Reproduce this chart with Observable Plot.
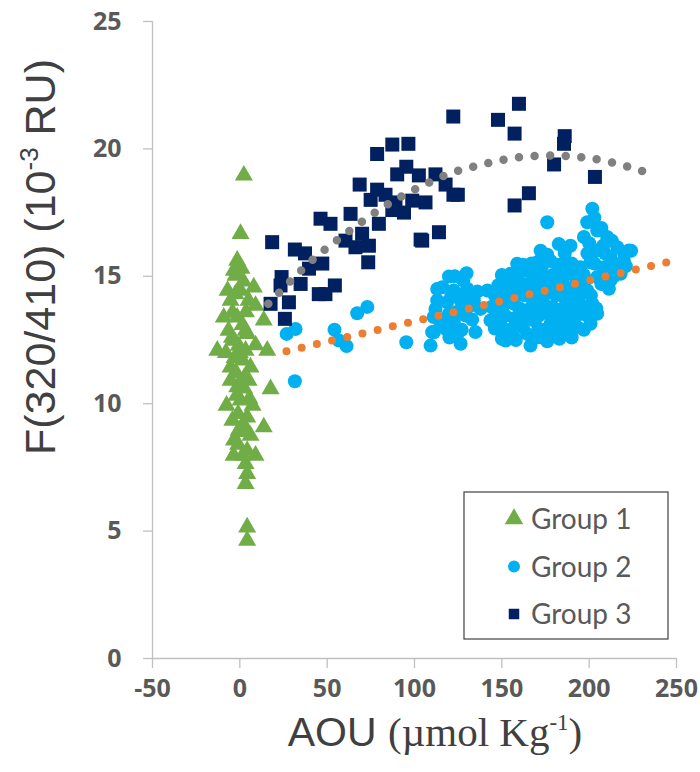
<!DOCTYPE html>
<html><head><meta charset="utf-8">
<script src="https://cdn.jsdelivr.net/npm/d3@7"></script>
<script src="https://cdn.jsdelivr.net/npm/@observablehq/plot@0.6"></script>
<style>
body{margin:0;background:#fff;}
#chart svg{display:block;}
</style></head><body><div id="chart"></div>
<script>
const xTicks = [-50, 0, 50, 100, 150, 200, 250];
const yTicks = [0, 5, 10, 15, 20, 25];
const seriesNames = ["Group 1", "Group 2", "Group 3"];

// Group 1 (green triangles)
const g1x = [2.3,0.4,-1.5,-3.4,-2.5,8,0.4,-5.3,13.7,-1.5,-9.2,-12.9,15.7,-3.4,4.2,-5.3,6.1,17.6,-1.5,-4.3,13.7,4.2,-3.4,4.2,9,3.3,4.2,3.3,4.2,4.2,-6.5,3.3,-0.7,1.6,-5.3,5,0.4,-7.6,7.3,-0.7,6.1,-3.6,1.6,-1.9,3.3,-4.2,9,5,-7,-2,2.5,-1,2,0,-2.5,3.5,1,-8,9,2.5,-3,1.5,5.5,-1,3,-4.5,2];
const g1y = [18.96,16.67,15.62,15.23,15.03,14.57,14.44,14.05,13.27,13.39,13.39,12.09,12.09,12.48,12.74,11.43,11.43,10.58,10.65,9.34,9.08,9.47,8.56,8.16,7.97,7.64,7.25,6.86,5.15,4.63,12.87,12.87,12.28,11.7,10.91,10.91,10.13,9.93,9.93,8.95,8.75,7.97,7.97,10.32,12.09,13.58,13.85,14.05,14.44,11.2,10.6,9.6,9.2,12.0,14.3,13.6,15.3,12.0,12.3,11.0,11.8,13.1,10.2,8.4,8.9,12.6,14.8];

// Group 2 (cyan circles)
const g2x = [73,67.2,26.8,31.9,54.2,56.7,61.1,31.5,95.3,109.2,111.1,
  129.8,119.7,127.9,115.9,122.5,130.2,113,118.7,126.4,134,137.8,112,119.7,129.2,114.9,122.5,110.1,124.5,134.9,126.4,117.8,
  113,121,128,116,124,131,111,127,120,133,123,136,
  176,182.6,172.2,189.3,158.8,164.5,155,177.9,185.5,195,149.3,147.4,148.3,153.1,152.1,156.9,164.5,172.2,179.8,185.5,193.2,200.8,204.6,201.8,198.9,160.7,166.4,174.1,181.7,189.3,156.9,164.5,174.1,181.7,189.3,195,160.7,168.3,177.9,185.5,193.2,170.3,141.8,143.5,168.3,177,185.5,160.7,176.2,193.8,152.1,198,149.3,166.4,
  150,158,170,176,183,190,146,155,162,171,175,181,188,197,146,152,157,165,171,180,187,192,199,144,151,160,167,172,179,185,192,198,204,146,153,158,163,170,174,181,188,195,201,148,156,164,170,177,185,192,196,150,159,168,179,183,189,197,162,167,173,182,190,176,186,
  201.8,198.9,204.6,197,210.3,216.1,222.7,204.6,212.2,219.8,200.8,208.4,216.1,204.6,212.2,211.3,218,
  203,207,200,208,213,203,214,220,207,209,199,214,221,224];
const g2y = [13.8,13.55,12.74,12.93,12.9,12.48,12.26,10.88,12.41,12.28,12.8,
  15.12,14.99,14.84,14.57,14.44,14.51,14.05,13.98,14.05,14.05,13.72,13.72,13.53,13.46,13.14,13.2,12.81,12.74,12.81,12.35,12.94,
  14.5,14.2,14.3,13.3,13.6,13.8,13.4,12.9,12.6,13.3,15.0,14.4,
  17.12,16.27,16.0,16.2,15.49,15.23,15.1,15.6,15.49,15.36,14.31,13.92,13.39,12.87,12.48,12.61,12.74,12.61,12.74,12.74,13.0,13.14,13.53,13.92,14.44,14.71,14.44,14.97,14.71,14.44,13.92,13.66,13.92,13.66,13.79,13.53,13.14,13.27,13.14,13.27,15.1,15.55,14.44,13.27,14.05,14.36,14.2,13.58,13.54,14.05,14.64,14.84,13.07,12.28,
  12.55,12.5,12.6,12.45,12.55,12.6,12.95,12.9,13.0,12.95,12.9,13.0,12.95,12.9,13.4,13.45,13.35,13.4,13.45,13.4,13.35,13.4,13.45,13.8,13.85,13.75,13.8,13.85,13.8,13.75,13.85,13.8,13.75,14.25,14.2,14.3,14.25,14.2,14.3,14.25,14.2,14.3,14.25,14.65,14.6,14.7,14.65,14.6,14.7,14.65,14.6,15.05,15.0,15.1,15.05,15.0,15.1,15.05,15.45,15.5,15.4,15.45,15.5,15.85,15.9,
  17.65,17.12,16.8,16.54,16.54,16.14,16.01,16.01,15.75,15.62,15.55,15.36,15.23,14.97,14.84,14.51,15.1,
  17.3,16.9,16.3,16.2,16.4,15.5,15.5,15.9,14.7,15.9,15.9,15.0,15.4,16.0];

// Group 3 (navy squares)
const g3x = [87.3,96.5,78.6,95.3,90.1,102.5,112,117.8,122.3,68.6,78.6,83.4,74.9,89.1,98.7,106.3,94,87.3,79.6,63.4,46.2,51.9,70,60.5,66.2,73.9,73.5,103.5,114,18.5,31.5,37.3,47.2,39.6,23.9,34.8,23.3,54.4,45.2,49,28.1,17.6,25.8,159.8,122.2,147.8,157.3,186,185.6,179.9,203.3,124.8,165.5,157.3,104.4];
const g3y = [20.17,20.2,19.8,19.3,19.0,18.96,19.0,18.6,18.2,18.6,18.4,18.2,18.0,17.9,17.97,17.9,17.5,17.6,17.06,17.45,17.26,17.06,16.67,16.4,16.14,16.2,15.55,16.44,16.73,16.34,16.05,15.9,15.5,15.3,14.97,14.7,14.64,14.64,14.3,14.3,13.98,13.92,13.33,21.77,21.27,21.14,20.6,20.5,20.2,19.39,18.9,18.2,18.26,17.78,16.4];

// Trendlines
const trend2x = [26.7, 250];
const trend2y = [12.06, 15.64];
const trend3x = [16.3,29,42.4,56.7,71.4,86.7,102.9,119.7,137.2,155,173.5,191.6,209.8,227.5,238];
const trend3y = [13.92,14.81,15.69,16.47,17.22,17.91,18.5,19.02,19.36,19.62,19.74,19.7,19.52,19.19,18.95];

const colors = {g1:"#70AD47", g2:"#00B0F0", g3:"#002060", t2:"#ED7D31", t3:"#808080"};
const rows = (xs, ys) => xs.map((x, i) => ({x, y: ys[i]}));

const svgEl = Plot.plot({
  width: 700, height: 772,
  marginLeft: 152, marginRight: 24, marginTop: 21, marginBottom: 114,
  style: {fontFamily: "'Open Sans', sans-serif", color: "#595959", background: "white"},
  x: {domain: [-50, 250]},
  y: {domain: [0, 25]},
  marks: [
    Plot.axisX({ticks: xTicks, tickFormat: d => String(d), tickSize: 10, tickPadding: 11, fontSize: 25, fontWeight: "bold", label: null}),
    Plot.axisY({ticks: yTicks, tickFormat: d => String(d), tickSize: 9, tickPadding: 22, fontSize: 25, fontWeight: "bold", label: null}),
    Plot.ruleX([-50], {stroke: "#c0c0c0", strokeWidth: 1.3}),
    Plot.ruleY([0], {stroke: "#c0c0c0", strokeWidth: 1.3}),
    Plot.dot(rows(g1x, g1y), {x: "x", y: "y", symbol: "triangle", r: 6.7, fill: colors.g1}),
    Plot.dot(rows(g2x, g2y), {x: "x", y: "y", symbol: "circle", r: 7, fill: colors.g2}),
    Plot.dot(rows(g3x, g3y), {x: "x", y: "y", symbol: "square", r: 7.9, fill: colors.g3}),
    Plot.line(rows(trend2x, trend2y), {x: "x", y: "y", stroke: colors.t2, strokeWidth: 8, strokeDasharray: "0 15.6", strokeLinecap: "round"}),
    Plot.line(rows(trend3x, trend3y), {x: "x", y: "y", stroke: colors.t3, strokeWidth: 8.5, strokeDasharray: "0 15.6", strokeLinecap: "round", curve: "natural"})
  ]
});
document.getElementById("chart").appendChild(svgEl);

const svg = d3.select(svgEl);
svg.selectAll('[aria-label="x-axis tick"], [aria-label="y-axis tick"]').attr("stroke", "#c0c0c0").attr("stroke-width", 1.3);

// Y axis title
const yt = svg.append("text")
  .attr("transform", "translate(55,257) rotate(-90)")
  .attr("text-anchor", "middle")
  .attr("font-family", "'Liberation Sans', Arial, sans-serif")
  .attr("font-size", 43).attr("font-weight", "normal").attr("fill", "#404040");
yt.append("tspan").text("F(320/410) (10");
yt.append("tspan").attr("font-size", 26).attr("dy", -17).text("-3");
yt.append("tspan").attr("dy", 17).text(" RU)");

// X axis title
const xt = svg.append("text")
  .attr("x", 435).attr("y", 746)
  .attr("text-anchor", "middle")
  .attr("font-size", 41).attr("font-weight", "normal").attr("fill", "#404040");
xt.append("tspan").attr("font-family", "'Liberation Sans', Arial, sans-serif").text("AOU ");
xt.append("tspan").attr("font-family", "'Liberation Serif', 'Times New Roman', serif").text("(\u00b5mol Kg");
xt.append("tspan").attr("font-family", "'Liberation Serif', 'Times New Roman', serif").attr("font-size", 23).attr("dy", -16).text("-1");
xt.append("tspan").attr("font-family", "'Liberation Serif', 'Times New Roman', serif").attr("dy", 16).text(")");

// Legend
const lg = svg.append("g").attr("text-anchor", "start");
lg.append("rect").attr("x", 464).attr("y", 492).attr("width", 204).attr("height", 147)
  .attr("fill", "white").attr("stroke", "#404040").attr("stroke-width", 1.2);
const legendItems = [
  {name: seriesNames[0], sym: d3.symbolTriangle, size: 150, color: colors.g1},
  {name: seriesNames[1], sym: d3.symbolCircle, size: 113, color: colors.g2},
  {name: seriesNames[2], sym: d3.symbolSquare, size: 110, color: colors.g3}
];
legendItems.forEach((d, i) => {
  const cy = 519 + i * 47.5;
  lg.append("path").attr("d", d3.symbol(d.sym, d.size)()).attr("transform", `translate(514,${cy})`).attr("fill", d.color);
  lg.append("text").attr("x", 531).attr("y", cy).attr("dy", "0.36em").attr("text-anchor", "start")
    .attr("font-family", "Lato, 'Open Sans', sans-serif").attr("font-size", 28).attr("font-weight", "normal")
    .attr("fill", "#595959").text(d.name);
});
</script></body></html>
